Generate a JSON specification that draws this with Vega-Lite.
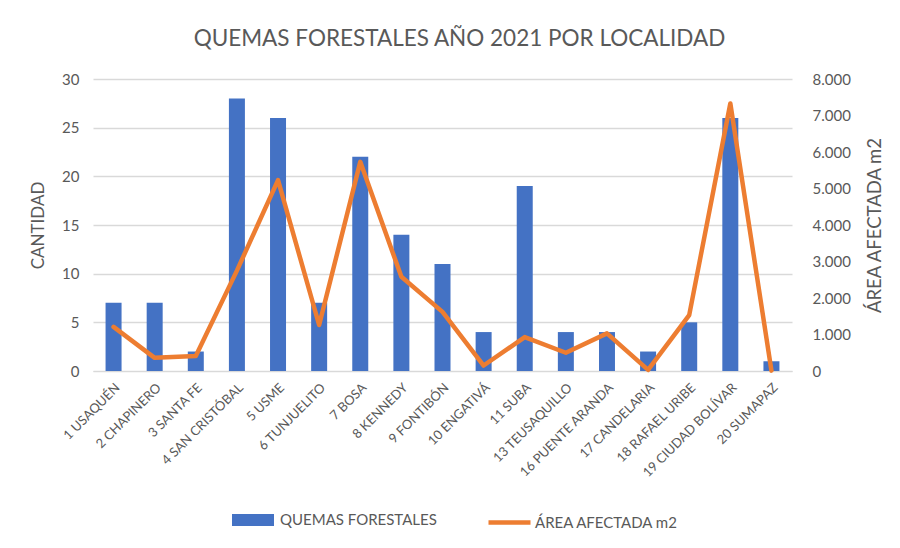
{
  "$schema": "https://vega.github.io/schema/vega-lite/v6.json",
  "width": 699,
  "height": 292,
  "autosize": {"type": "none"},
  "padding": {"left": 93, "top": 79, "right": 108, "bottom": 177},
  "background": "white",
  "config": {
    "font": "Lato",
    "view": {"stroke": null},
    "locale": {"number": {"decimal": ",", "thousands": ".", "grouping": [3], "currency": ["$", ""]}}
  },
  "title": {
    "text": "QUEMAS FORESTALES AÑO 2021 POR LOCALIDAD",
    "fontSize": 22.5,
    "fontWeight": "normal",
    "color": "#595959",
    "font": "Lato",
    "anchor": "middle",
    "dx": 17,
    "offset": 22
  },
  "data": {
    "values": [
      {"localidad": "1 USAQUÉN", "quemas": 7, "area": 1210},
      {"localidad": "2 CHAPINERO", "quemas": 7, "area": 360},
      {"localidad": "3 SANTA FE", "quemas": 2, "area": 410},
      {"localidad": "4 SAN CRISTÓBAL", "quemas": 28, "area": 2750},
      {"localidad": "5 USME", "quemas": 26, "area": 5230},
      {"localidad": "6 TUNJUELITO", "quemas": 7, "area": 1260},
      {"localidad": "7 BOSA", "quemas": 22, "area": 5730},
      {"localidad": "8 KENNEDY", "quemas": 14, "area": 2580},
      {"localidad": "9 FONTIBÓN", "quemas": 11, "area": 1620},
      {"localidad": "10 ENGATIVÁ", "quemas": 4, "area": 150},
      {"localidad": "11 SUBA", "quemas": 19, "area": 930},
      {"localidad": "13 TEUSAQUILLO", "quemas": 4, "area": 500},
      {"localidad": "16 PUENTE ARANDA", "quemas": 4, "area": 1030},
      {"localidad": "17 CANDELARIA", "quemas": 2, "area": 30},
      {"localidad": "18 RAFAEL URIBE", "quemas": 5, "area": 1530},
      {"localidad": "19 CIUDAD BOLÍVAR", "quemas": 26, "area": 7330},
      {"localidad": "20 SUMAPAZ", "quemas": 1, "area": 10}
    ]
  },
  "encoding": {
    "x": {
      "field": "localidad",
      "type": "nominal",
      "sort": null,
      "scale": {"paddingInner": 0, "paddingOuter": 0},
      "axis": {
        "title": null,
        "labelAngle": -45,
        "labelFontSize": 13,
        "labelColor": "#595959",
        "labelPadding": 10,
        "ticks": false,
        "domainColor": "#D9D9D9",
        "domainWidth": 1
      }
    }
  },
  "layer": [
    {
      "mark": {"type": "bar", "size": 16, "color": "#4472C4"},
      "encoding": {
        "y": {
          "field": "quemas",
          "type": "quantitative",
          "scale": {"domain": [0, 30]},
          "axis": {
            "title": "CANTIDAD",
            "titleFontSize": 17,
            "titleFontWeight": "normal",
            "titleColor": "#595959",
            "titlePadding": 14,
            "values": [0, 5, 10, 15, 20, 25, 30],
            "labelFontSize": 15,
            "labelColor": "#595959",
            "labelPadding": 14,
            "ticks": false,
            "domain": false,
            "gridColor": "#D9D9D9",
            "gridWidth": 1.3
          }
        },
        "fill": {
          "datum": "QUEMAS FORESTALES",
          "type": "nominal",
          "scale": {"domain": ["QUEMAS FORESTALES"], "range": ["#4472C4"]},
          "legend": {
            "title": null,
            "orient": "none",
            "legendX": 139,
            "legendY": 420,
            "symbolType": "M-1,-0.28H1V0.28H-1Z",
            "symbolSize": 1764,
            "symbolStrokeWidth": 0,
            "labelFontSize": 15,
            "labelColor": "#595959",
            "labelOffset": 6
          }
        }
      }
    },
    {
      "mark": {"type": "line", "strokeWidth": 4.5, "strokeCap": "round", "strokeJoin": "round"},
      "encoding": {
        "y": {
          "field": "area",
          "type": "quantitative",
          "scale": {"domain": [0, 8000]},
          "axis": {
            "orient": "right",
            "title": "ÁREA AFECTADA m2",
            "titleAngle": 270,
            "titleBaseline": "top",
            "titleFontSize": 18.5,
            "titleFontWeight": "normal",
            "titleColor": "#595959",
            "titlePadding": 15,
            "values": [0, 1000, 2000, 3000, 4000, 5000, 6000, 7000, 8000],
            "format": ",d",
            "labelFontSize": 15,
            "labelColor": "#595959",
            "labelPadding": 20,
            "ticks": false,
            "domain": false,
            "grid": false
          }
        },
        "stroke": {
          "datum": "ÁREA AFECTADA m2",
          "type": "nominal",
          "scale": {"domain": ["ÁREA AFECTADA m2"], "range": ["#ED7D31"]},
          "legend": {
            "title": null,
            "orient": "none",
            "legendX": 393,
            "legendY": 420,
            "symbolType": "stroke",
            "symbolSize": 1764,
            "symbolStrokeWidth": 4.5,
            "labelFontSize": 15,
            "labelColor": "#595959",
            "labelOffset": 2
          }
        }
      }
    }
  ],
  "resolve": {"scale": {"y": "independent", "fill": "independent", "stroke": "independent"}}
}
